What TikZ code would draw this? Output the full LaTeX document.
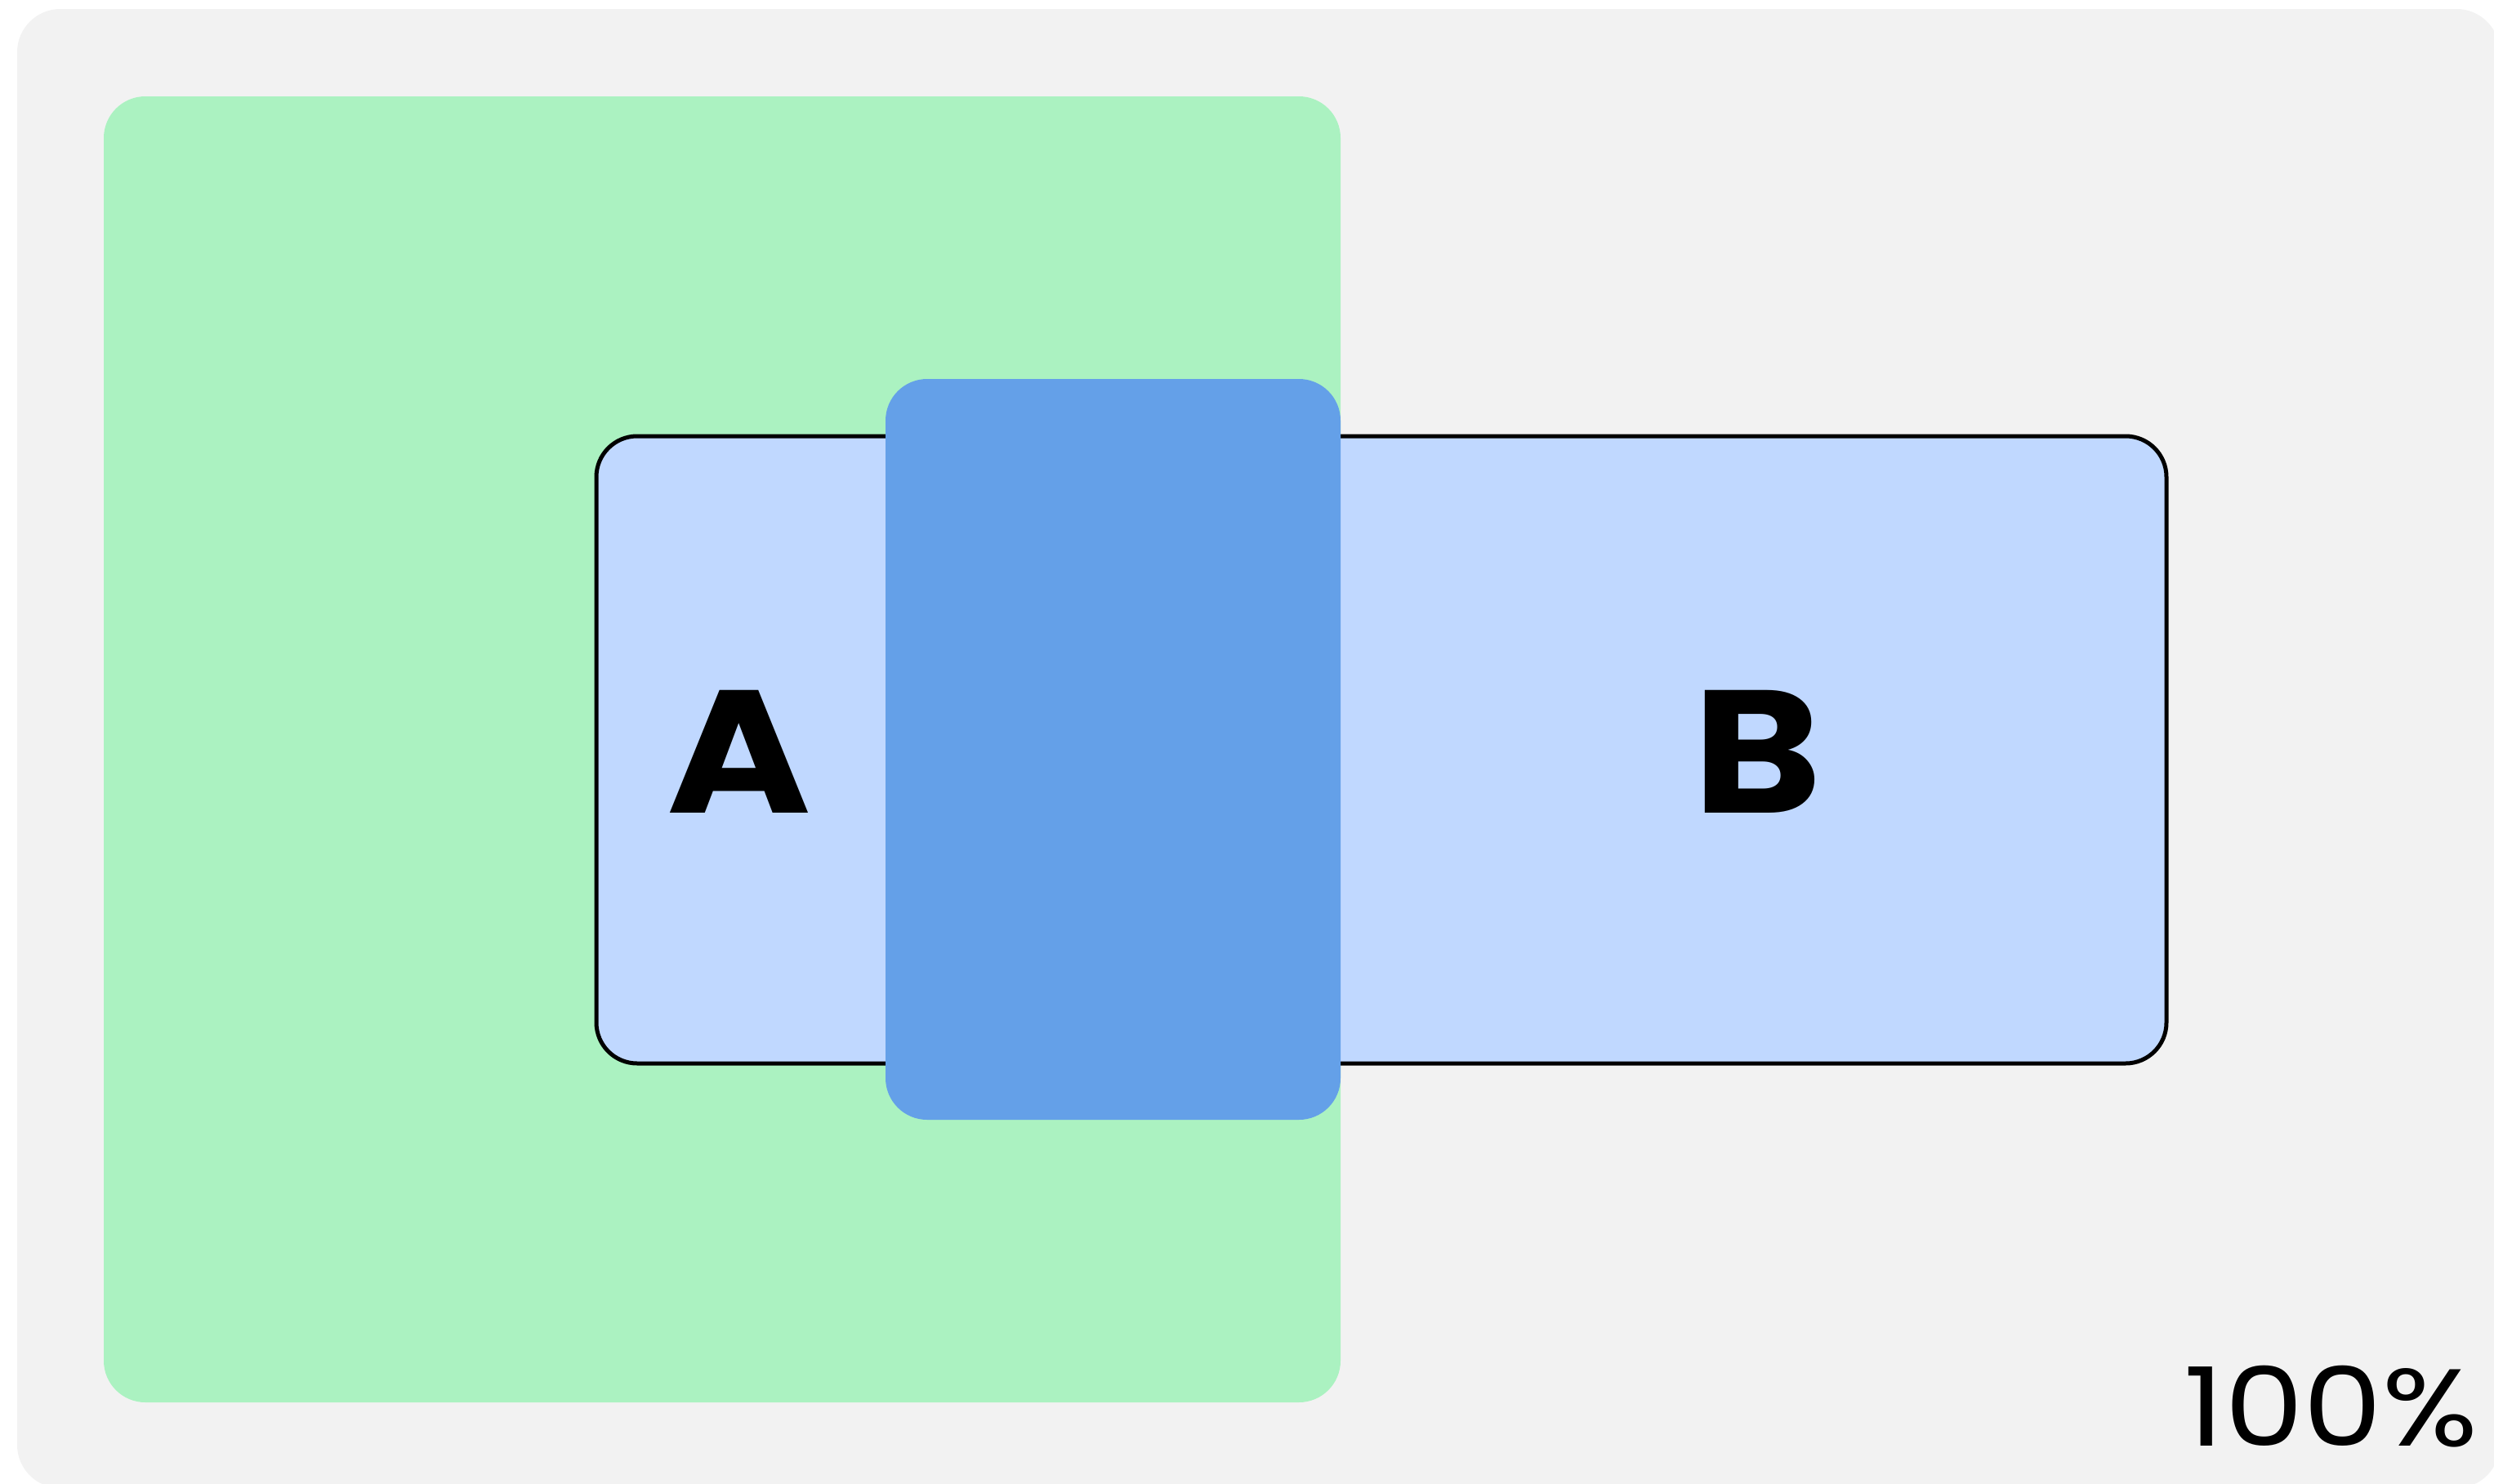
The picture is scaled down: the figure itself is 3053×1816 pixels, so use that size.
\documentclass[tikz,border=0pt]{standalone}
\usepackage{fontspec}
\setmainfont{Poppins}
\newfontfamily\widefont{Poppins}[FakeStretch=1.12]
\newfontfamily\pctfont{Poppins}[FakeStretch=1.15]
\definecolor{bggray}{RGB}{242,242,242}
\definecolor{mint}{RGB}{171,242,193}
\definecolor{paleblue}{RGB}{192,216,255}
\definecolor{midblue}{RGB}{100,160,232}
\begin{document}
\begin{tikzpicture}[x=0.5pt,y=-0.5pt,
  panel/.style={rounded corners=25.5pt},
  biglabel/.style={font=\widefont\fontsize{107}{110}\selectfont\bfseries, text=black, inner sep=0pt, anchor=center},
  pct/.style={font=\pctfont\fontsize{67}{70}\selectfont, text=black, inner sep=0pt, anchor=south east}]
\useasboundingbox (0,0) rectangle (3053,1816);
\fill[white] (0,0) rectangle (3053,1816);
\begin{scope}
\clip (0,0) rectangle (3053,1816);
\fill[bggray, rounded corners=26.5pt] (21,11) rectangle (3060,1822);
\end{scope}
\fill[mint, panel] (127,118) rectangle (1641,1717);
\draw[fill=paleblue, draw=black, line width=2.5pt, rounded corners=25pt] (730,534) rectangle (2652,1302);
\fill[midblue, panel] (1084,464) rectangle (1641,1371);
\node[biglabel] (a) at (904.5,920.5) {A};
\node[biglabel] (b) at (2151.5,920.5) {B};
\node[pct] (p) at (3034,1772) {100\%};
\end{tikzpicture}
\end{document}
